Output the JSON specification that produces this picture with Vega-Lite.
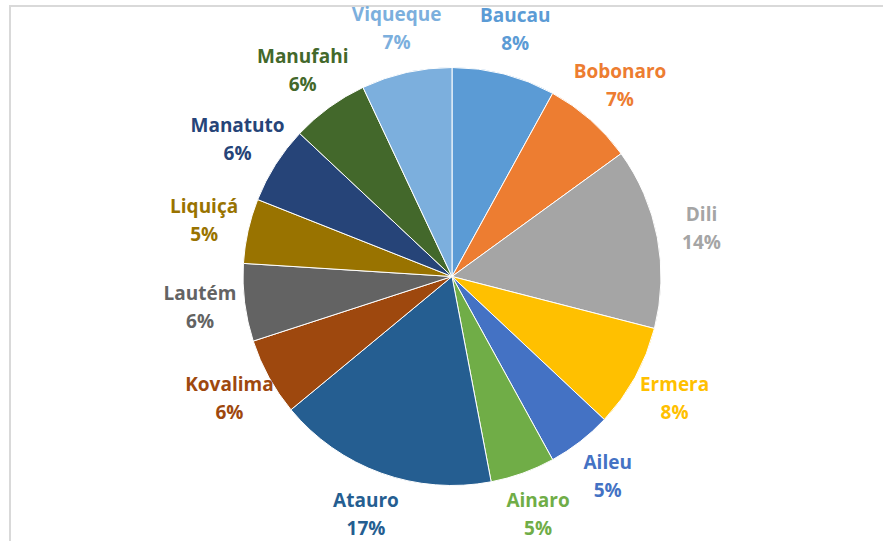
{
  "$schema": "https://vega.github.io/schema/vega-lite/v6.json",
  "width": 883,
  "height": 541,
  "autosize": {"type": "fit", "contains": "padding"},
  "padding": {"left": 10, "top": 5, "right": -11, "bottom": -6},
  "background": "white",
  "view": {"stroke": "#d9d9d9", "strokeWidth": 2},
  "data": {
    "values": [
      {"k": 1, "name": "Baucau", "share": 0.08},
      {"k": 2, "name": "Bobonaro", "share": 0.07},
      {"k": 3, "name": "Dili", "share": 0.14},
      {"k": 4, "name": "Ermera", "share": 0.08},
      {"k": 5, "name": "Aileu", "share": 0.05},
      {"k": 6, "name": "Ainaro", "share": 0.05},
      {"k": 7, "name": "Atauro", "share": 0.17},
      {"k": 8, "name": "Kovalima", "share": 0.06},
      {"k": 9, "name": "Lautém", "share": 0.06},
      {"k": 10, "name": "Liquiçá", "share": 0.05},
      {"k": 11, "name": "Manatuto", "share": 0.06},
      {"k": 12, "name": "Manufahi", "share": 0.06},
      {"k": 13, "name": "Viqueque", "share": 0.07}
    ]
  },
  "encoding": {
    "theta": {"field": "share", "type": "quantitative", "stack": true},
    "order": {"field": "k", "type": "quantitative"},
    "color": {
      "field": "name",
      "type": "nominal",
      "legend": null,
      "scale": {
        "domain": ["Baucau", "Bobonaro", "Dili", "Ermera", "Aileu", "Ainaro", "Atauro", "Kovalima", "Lautém", "Liquiçá", "Manatuto", "Manufahi", "Viqueque"],
        "range": ["#5B9BD5", "#ED7D31", "#A5A5A5", "#FFC000", "#4472C4", "#70AD47", "#255E91", "#9E480E", "#636363", "#997300", "#264478", "#43682B", "#7CAFDD"]
      }
    }
  },
  "layer": [
    {"mark": {"type": "arc", "outerRadius": 209, "stroke": "white", "strokeWidth": 1}},
    {
      "mark": {"type": "text", "radius": 254, "dy": -14, "font": "Open Sans", "fontWeight": "bold", "fontSize": 19},
      "encoding": {"text": {"field": "name", "type": "nominal"}}
    },
    {
      "mark": {"type": "text", "radius": 254, "dy": 14, "font": "Open Sans", "fontWeight": "bold", "fontSize": 19},
      "encoding": {"text": {"field": "share", "type": "quantitative", "format": ".0%"}}
    }
  ]
}
